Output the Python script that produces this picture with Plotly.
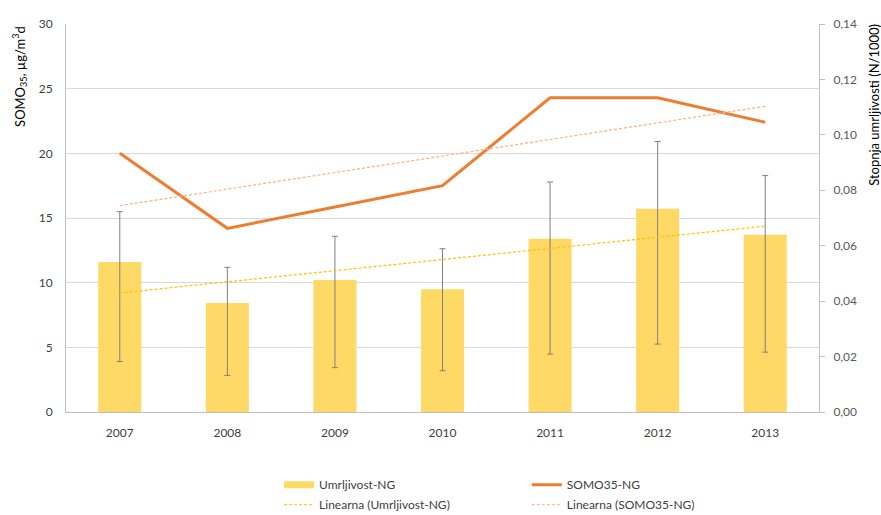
import numpy as np
import plotly.graph_objects as go

# --- data ---------------------------------------------------------------
years = ["2007", "2008", "2009", "2010", "2011", "2012", "2013"]
somo35 = [20.0, 14.2, 15.85, 17.5, 24.3, 24.3, 22.4]            # µg/m3·d
mortality = [0.0541, 0.0393, 0.0476, 0.0443, 0.0625, 0.0733, 0.0640]  # N/1000
mort_upper = [0.0723, 0.0522, 0.0634, 0.0589, 0.0830, 0.0976, 0.0853]
mort_lower = [0.0182, 0.0132, 0.0160, 0.0149, 0.0209, 0.0245, 0.0216]

left_ticks = [0, 5, 10, 15, 20, 25, 30]
right_ticks = [0.0, 0.02, 0.04, 0.06, 0.08, 0.10, 0.12, 0.14]

# linear trend lines (least squares over the year index)
idx = np.arange(len(years))
somo_fit = np.polyval(np.polyfit(idx, somo35, 1), idx)
mort_fit = np.polyval(np.polyfit(idx, mortality, 1), idx)

FONT = "Lato"
BAR_COLOR = "#FFD966"
LINE_COLOR = "#ED7D31"
BAR_TREND = "#FFC000"
LINE_TREND = "#F4B183"

fig = go.Figure()

# mortality bars with asymmetric error bars (right axis)
fig.add_trace(go.Bar(
    x=years, y=mortality, yaxis="y2", width=0.4,
    marker=dict(color=BAR_COLOR, line=dict(width=0)),
    error_y=dict(type="data", symmetric=False,
                 array=[u - m for u, m in zip(mort_upper, mortality)],
                 arrayminus=[m - l for m, l in zip(mortality, mort_lower)],
                 color="#7F7F7F", thickness=1, width=3),
    showlegend=False, name="Umrljivost-NG",
))
fig.add_trace(go.Scatter(
    x=years, y=mort_fit, yaxis="y2", mode="lines",
    line=dict(color=BAR_TREND, width=1.2, dash="3px,2px"),
    showlegend=False,
))

# SOMO35 line and its trend (left axis)
fig.add_trace(go.Scatter(
    x=years, y=somo35, mode="lines",
    line=dict(color=LINE_COLOR, width=3),
    showlegend=False,
))
fig.add_trace(go.Scatter(
    x=years, y=somo_fit, mode="lines",
    line=dict(color=LINE_TREND, width=1.2, dash="3px,2px"),
    showlegend=False,
))

# legend entries (two columns)
def legend_entry(name, color, width, dash, legend, group):
    fig.add_trace(go.Scatter(
        x=[years[0]], y=[None], mode="lines", name=name,
        line=dict(color=color, width=width, dash=dash),
        legend=legend, legendgroup=group, hoverinfo="skip",
    ))

legend_entry("Umrljivost-NG", BAR_COLOR, 7, "solid", "legend", "a")
legend_entry("Linearna (Umrljivost-NG)", BAR_TREND, 1, "3px,2px", "legend", "b")
legend_entry("SOMO35-NG", LINE_COLOR, 3, "solid", "legend2", "c")
legend_entry("Linearna (SOMO35-NG)", LINE_TREND, 1, "3px,2px", "legend2", "d")

legend_style = dict(
    orientation="v", yanchor="top", y=-0.15, xanchor="left",
    font=dict(family=FONT, size=12, color="#404040"),
    bgcolor="rgba(0,0,0,0)", tracegroupgap=1,
)

fig.update_layout(
    width=881, height=515,
    margin=dict(l=66, r=62, t=24, b=103, autoexpand=False),
    paper_bgcolor="white", plot_bgcolor="white",
    separators=", ",
    font=dict(family=FONT, size=12, color="#404040"),
    bargap=0.6,
    xaxis=dict(
        type="category", range=[-0.5, 6.5],
        showline=True, linecolor="#BFBFBF", linewidth=1,
        showgrid=False, ticks="", ticklabelstandoff=10,
        tickfont=dict(family=FONT, size=12, color="#404040"),
    ),
    yaxis=dict(
        range=[0, 30], tickvals=left_ticks,
        showline=True, linecolor="#BFBFBF", linewidth=1,
        gridcolor="#D9D9D9", gridwidth=1, zeroline=False,
        ticks="", ticklabelstandoff=10,
        tickfont=dict(family=FONT, size=12, color="#404040"),
    ),
    yaxis2=dict(
        range=[0, 0.14], tickvals=right_ticks, tickformat=".2f",
        overlaying="y", side="right",
        showline=True, linecolor="#BFBFBF", linewidth=1,
        showgrid=False, zeroline=False,
        ticks="outside", ticklen=5, tickcolor="#BFBFBF",
        ticklabelstandoff=6,
        tickfont=dict(family=FONT, size=12, color="#595959"),
    ),
    legend=dict(x=0.283, **legend_style),
    legend2=dict(x=0.612, **legend_style),
    annotations=[
        dict(text="SOMO<sub>35</sub>, µg/m<sup>3</sup>d", textangle=-90,
             xref="paper", yref="paper", x=-0.0611, xanchor="center",
             y=1 - (76 - 24) / 388.6, yanchor="middle", showarrow=False,
             font=dict(family=FONT, size=13, color="#000000")),
        dict(text="Stopnja umrljivosti (N/1000)", textangle=-90,
             xref="paper", yref="paper", x=1 + (874 - 819) / 753, xanchor="center",
             y=1 - (105 - 24) / 388.6, yanchor="middle", showarrow=False,
             font=dict(family=FONT, size=13, color="#000000")),
    ],
)

fig.write_html("out.html")
